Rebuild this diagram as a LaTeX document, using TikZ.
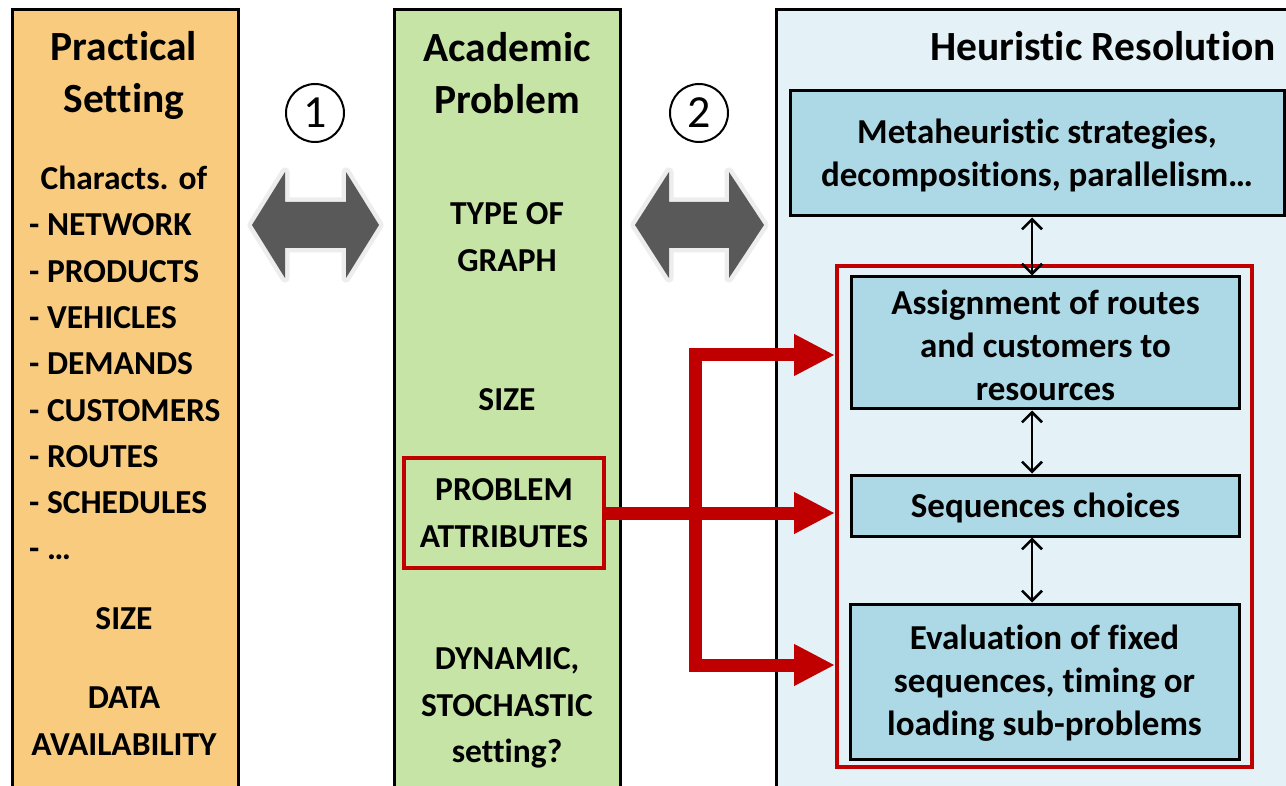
\documentclass[tikz,border=0pt]{standalone}
\usepackage{fontspec}
\setmainfont{Carlito}[Ligatures=NoCommon]
\usetikzlibrary{arrows.meta}
\definecolor{orangefill}{HTML}{F8CB7F}
\definecolor{greenfill}{HTML}{C6E4A5}
\definecolor{panelblue}{HTML}{E4F2F7}
\definecolor{boxblue}{HTML}{ADD8E5}
\definecolor{darkred}{HTML}{C00000}
\definecolor{arrowgrey}{HTML}{595959}
\definecolor{glowgrey}{HTML}{EDEDED}
\begin{document}
\begin{tikzpicture}[x=1pt,y=-1pt,
  panel/.style={draw=black, line width=3pt},
  title/.style={font=\fontsize{41.5}{52}\selectfont\bfseries, align=center, inner sep=0pt},
  body/.style={font=\fontsize{33.5}{46.3}\selectfont\bfseries, align=center, inner sep=0pt},
  stepbox/.style={draw=black, line width=3pt, fill=boxblue, inner sep=0pt,
    font=\fontsize{35}{43}\selectfont\bfseries, align=center},
  steptext/.style={font=\fontsize{35}{43}\selectfont\bfseries, align=center, inner sep=0pt},
  numcircle/.style={circle, draw=black, line width=2pt, minimum size=58pt, inner sep=0pt,
    font=\fontsize{46}{46}\selectfont},
  redarrow/.style={draw=darkred, line width=13pt, line join=miter,
    >={Triangle[length=41pt,width=39pt]}},
  linkarrow/.style={draw=black, line width=2.5pt, {Straight Barb[length=10pt,width=20pt]}-{Straight Barb[length=10pt,width=20pt]}},
  bigarrow/.style={fill=arrowgrey, draw=glowgrey, line width=9pt, line join=round}
]
\useasboundingbox (0,0) rectangle (1286,786);
\clip (0,0) rectangle (1286,786);
\fill[white] (0,0) rectangle (1286,786);

% three columns
\draw[panel, fill=orangefill] (12,10) rectangle (238,800);
\draw[panel, fill=greenfill] (394,10) rectangle (620,800);
\draw[panel, fill=panelblue] (776,10) rectangle (1300,800);

% practical setting column
\node[title] (ps) at (124,75) {Practical\\Setting};
\node[body] (co) at (124,178) {Characts. of};
\node[body, align=left, anchor=west] (ls) at (29,387)
  {- NETWORK\\- PRODUCTS\\- VEHICLES\\- DEMANDS\\- CUSTOMERS\\- ROUTES\\- SCHEDULES\\- …};
\node[body] (sz1) at (124,619) {SIZE};
\node[body] (da) at (124,721) {DATA\\AVAILABILITY};

% academic problem column
\node[title] (ap) at (507,73) {Academic\\Problem};
\node[body] (tg) at (507,237) {TYPE OF\\GRAPH};
\node[body] (sz2) at (507,400) {SIZE};
\node[body, draw=darkred, line width=4pt, minimum width=200pt, minimum height=110pt]
  (pa) at (504,513) {PROBLEM\\ATTRIBUTES};
\node[body] (ds) at (507,708) {DYNAMIC,\\STOCHASTIC\\setting?};

% heuristic resolution column
\node[title] (hr) at (1103,46) {Heuristic Resolution};
\node[stepbox, minimum width=494pt, minimum height=125pt] (meta) at (1037,153.5) {};
\node[steptext] (metat) at (1037,155.5) {Metaheuristic strategies,\\decompositions, parallelism…};
\node[draw=darkred, line width=4pt, minimum width=415pt, minimum height=501pt, inner sep=0pt]
  (rr) at (1044.5,516.5) {};
\node[stepbox, minimum width=388pt, minimum height=132pt] (asg) at (1045.5,343) {};
\node[steptext] (asgt) at (1045.5,345) {Assignment of routes\\and customers to\\resources};
\node[stepbox, minimum width=388pt, minimum height=61pt] (seq) at (1045.5,505.5) {};
\node[steptext] (seqt) at (1045.5,508) {Sequences choices};
\node[stepbox, minimum width=389pt, minimum height=155pt] (eva) at (1044.5,681.5) {};
\node[steptext] (evat) at (1044.5,683.5) {Evaluation of fixed\\sequences, timing or\\loading sub-problems};

% links between the resolution levels
\coordinate (ax) at (1032,0);
\draw[linkarrow] (meta.south -| ax) -- (asg.north -| ax);
\draw[linkarrow] (asg.south -| ax) -- (seq.north -| ax);
\draw[linkarrow] (seq.south -| ax) -- (eva.north -| ax);

% problem attributes feed every level
\coordinate (ta) at (695,355);
\coordinate (ba) at (695,665);
\draw[redarrow, ->] (pa.east) -- (pa.east -| rr.west);
\draw[redarrow, <->] (ta -| rr.west) -- (ta) -- (ba) -- (ba -| rr.west);

% numbered transitions between columns
\node[numcircle] (n1) at (315,113) {1};
\node[numcircle] (n2) at (699,113) {2};
\path[bigarrow] (252,225) -- (285,172) -- (285,202) -- (346,202) -- (346,172) -- (379,225)
  -- (346,278) -- (346,248) -- (285,248) -- (285,278) -- cycle;
\fill[arrowgrey] (252,225) -- (285,172) -- (285,202) -- (346,202) -- (346,172) -- (379,225)
  -- (346,278) -- (346,248) -- (285,248) -- (285,278) -- cycle;
\path[bigarrow] (635,225) -- (669,172) -- (669,202) -- (729,202) -- (729,172) -- (764,225)
  -- (729,278) -- (729,248) -- (669,248) -- (669,278) -- cycle;
\fill[arrowgrey] (635,225) -- (669,172) -- (669,202) -- (729,202) -- (729,172) -- (764,225)
  -- (729,278) -- (729,248) -- (669,248) -- (669,278) -- cycle;
\end{tikzpicture}
\end{document}
